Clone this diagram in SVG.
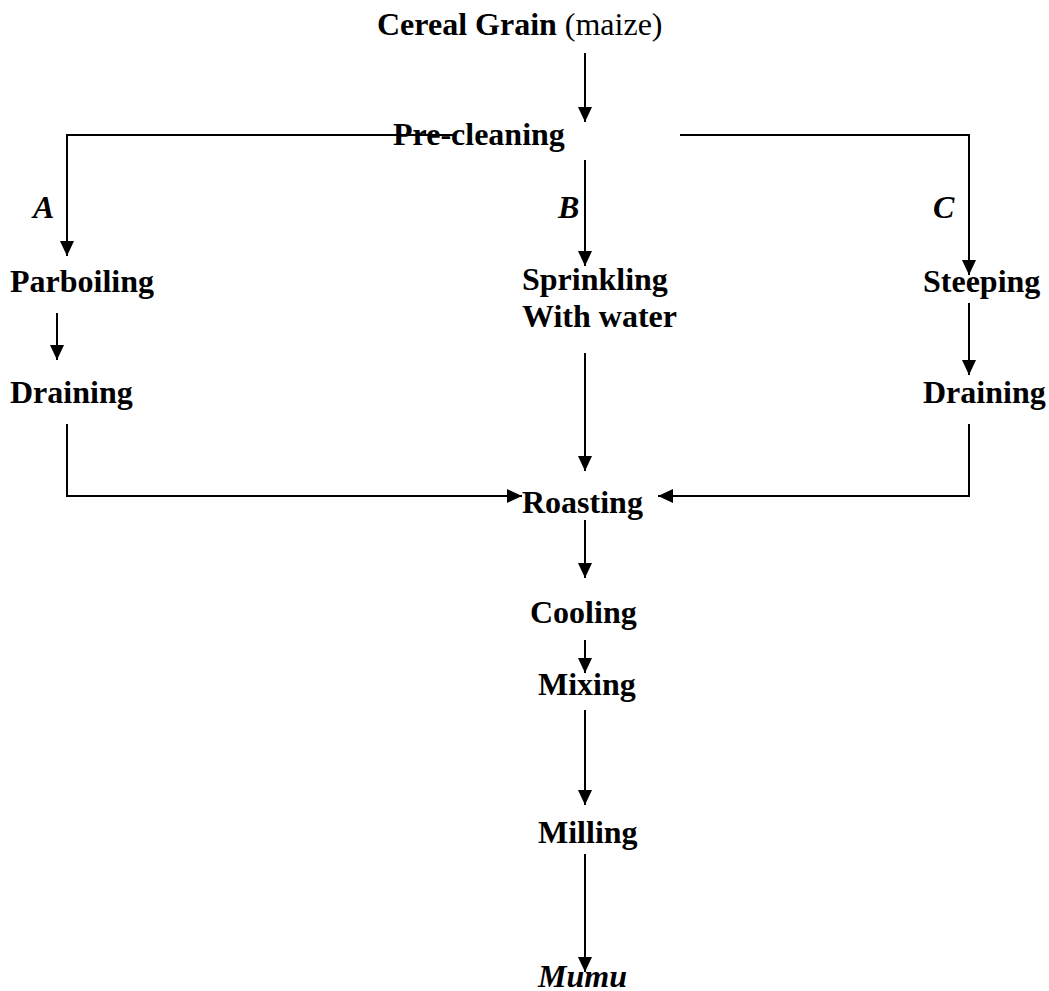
<svg xmlns="http://www.w3.org/2000/svg" width="1049" height="991" viewBox="0 0 1049 991">
<style>
text { font-family: "Liberation Serif", "Times New Roman", serif; font-size: 32px; fill: #000; }
.b { font-weight: bold; }
.bi { font-weight: bold; font-style: italic; }
.r { font-weight: normal; }
.c { fill: none; stroke: #000; stroke-width: 2; }
</style>
<defs>
<marker id="ah" viewBox="0 0 15 14" refX="15" refY="7" markerWidth="15" markerHeight="14" markerUnits="userSpaceOnUse" orient="auto">
<path d="M0,0 L15,7 L0,14 z" fill="#000"/>
</marker>
</defs>
<rect width="1049" height="991" fill="#fff"/>
<g id="connectors">
<path class="c" marker-end="url(#ah)" d="M585,53 L585,122"/>
<path class="c" marker-end="url(#ah)" d="M455,135 L67,135 L67,256"/>
<path class="c" marker-end="url(#ah)" d="M585,160 L585,266"/>
<path class="c" marker-end="url(#ah)" d="M680,135 L969,135 L969,275"/>
<path class="c" marker-end="url(#ah)" d="M57,313 L57,360"/>
<path class="c" marker-end="url(#ah)" d="M969,303 L969,375"/>
<path class="c" marker-end="url(#ah)" d="M67,424 L67,496 L522,496"/>
<path class="c" marker-end="url(#ah)" d="M969,424 L969,496 L658,496"/>
<path class="c" marker-end="url(#ah)" d="M585,353 L585,471"/>
<path class="c" marker-end="url(#ah)" d="M585,520 L585,578"/>
<path class="c" marker-end="url(#ah)" d="M585,640 L585,673"/>
<path class="c" marker-end="url(#ah)" d="M585,710 L585,805"/>
<path class="c" marker-end="url(#ah)" d="M585,854 L585,972"/>
</g>
<g id="labels">
<text class="bi" x="33" y="218">A</text>
<text class="bi" x="558" y="218">B</text>
<text class="bi" x="933" y="218">C</text>
</g>
<g id="n-cereal"><text class="b" x="377" y="35">Cereal Grain <tspan class="r">(maize)</tspan></text></g>
<g id="n-precleaning"><text class="b" x="393" y="145">Pre-cleaning</text></g>
<g id="n-parboiling"><text class="b" x="10" y="292">Parboiling</text></g>
<g id="n-draining-a"><text class="b" x="10" y="403">Draining</text></g>
<g id="n-sprinkling"><text class="b" x="522" y="290">Sprinkling</text><text class="b" x="522" y="327">With water</text></g>
<g id="n-steeping"><text class="b" x="923" y="292">Steeping</text></g>
<g id="n-draining-c"><text class="b" x="923" y="403">Draining</text></g>
<g id="n-roasting"><text class="b" x="522" y="513">Roasting</text></g>
<g id="n-cooling"><text class="b" x="530" y="623">Cooling</text></g>
<g id="n-mixing"><text class="b" x="538" y="695">Mixing</text></g>
<g id="n-milling"><text class="b" x="538" y="843">Milling</text></g>
<g id="n-mumu"><text class="bi" x="538" y="987">Mumu</text></g>
</svg>
